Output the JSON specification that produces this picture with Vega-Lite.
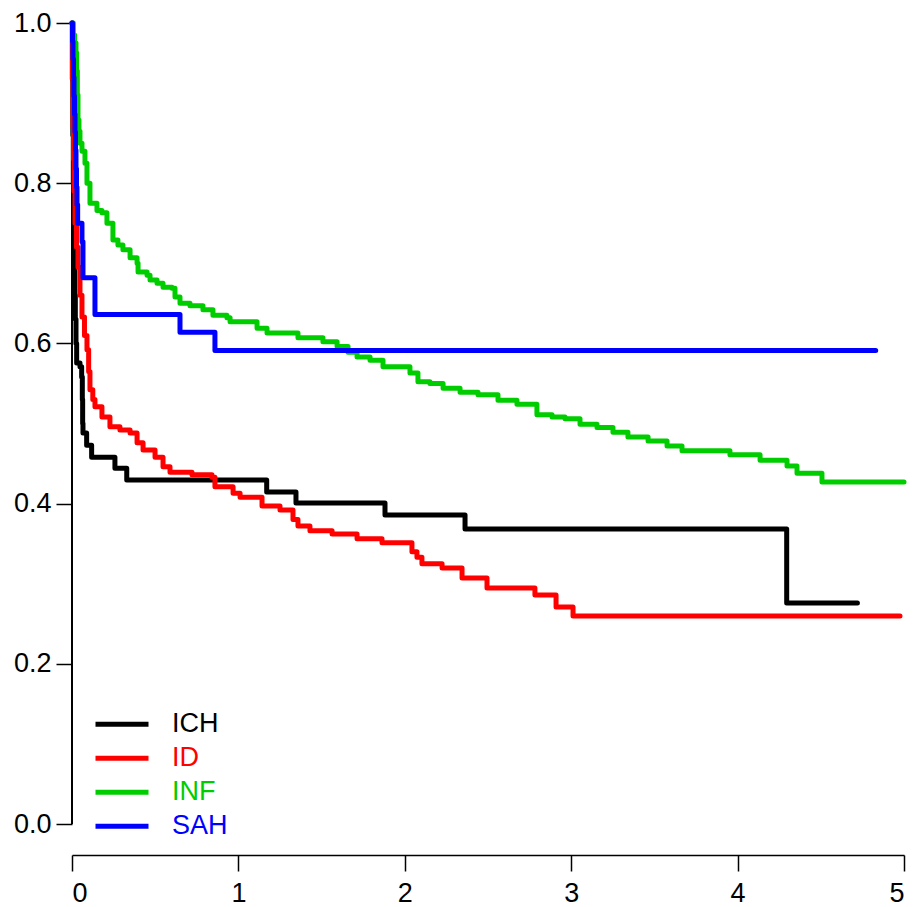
{
  "$schema": "https://vega.github.io/schema/vega-lite/v6.json",
  "autosize": {"type": "none"},
  "padding": {"left": 72, "top": 23, "right": 10, "bottom": 52},
  "width": 832,
  "height": 832,
  "config": {
    "view": {"stroke": null},
    "font": "Liberation Sans",
    "axis": {"grid": false, "labelFont": "Liberation Sans", "labelFontSize": 27, "labelColor": "#000000", "domainColor": "#000000", "tickColor": "#000000", "domainWidth": 1.5, "tickWidth": 1.5, "tickSize": 16, "title": null}
  },
  "data": {"values": [
    {"group": "ICH", "t": 0, "s": 1.0},
    {"group": "ICH", "t": 0.002, "s": 0.93},
    {"group": "ICH", "t": 0.005, "s": 0.86},
    {"group": "ICH", "t": 0.008, "s": 0.80},
    {"group": "ICH", "t": 0.011, "s": 0.74},
    {"group": "ICH", "t": 0.014, "s": 0.70},
    {"group": "ICH", "t": 0.017, "s": 0.66},
    {"group": "ICH", "t": 0.020, "s": 0.63},
    {"group": "ICH", "t": 0.024, "s": 0.60},
    {"group": "ICH", "t": 0.028, "s": 0.5755},
    {"group": "ICH", "t": 0.048, "s": 0.571},
    {"group": "ICH", "t": 0.058, "s": 0.558},
    {"group": "ICH", "t": 0.062, "s": 0.53},
    {"group": "ICH", "t": 0.064, "s": 0.50},
    {"group": "ICH", "t": 0.066, "s": 0.488},
    {"group": "ICH", "t": 0.088, "s": 0.473},
    {"group": "ICH", "t": 0.118, "s": 0.458},
    {"group": "ICH", "t": 0.258, "s": 0.444},
    {"group": "ICH", "t": 0.329, "s": 0.4295},
    {"group": "ICH", "t": 1.170, "s": 0.4145},
    {"group": "ICH", "t": 1.346, "s": 0.4007},
    {"group": "ICH", "t": 1.881, "s": 0.3858},
    {"group": "ICH", "t": 2.362, "s": 0.3683},
    {"group": "ICH", "t": 4.295, "s": 0.2759},
    {"group": "ICH", "t": 4.72, "s": 0.2759},

    {"group": "ID", "t": 0, "s": 1.0},
    {"group": "ID", "t": 0.003, "s": 0.93},
    {"group": "ID", "t": 0.006, "s": 0.87},
    {"group": "ID", "t": 0.009, "s": 0.83},
    {"group": "ID", "t": 0.012, "s": 0.79},
    {"group": "ID", "t": 0.018, "s": 0.750},
    {"group": "ID", "t": 0.027, "s": 0.72},
    {"group": "ID", "t": 0.036, "s": 0.695},
    {"group": "ID", "t": 0.048, "s": 0.66},
    {"group": "ID", "t": 0.060, "s": 0.633},
    {"group": "ID", "t": 0.075, "s": 0.61},
    {"group": "ID", "t": 0.090, "s": 0.592},
    {"group": "ID", "t": 0.100, "s": 0.565},
    {"group": "ID", "t": 0.108, "s": 0.542},
    {"group": "ID", "t": 0.125, "s": 0.53},
    {"group": "ID", "t": 0.138, "s": 0.521},
    {"group": "ID", "t": 0.180, "s": 0.508},
    {"group": "ID", "t": 0.228, "s": 0.496},
    {"group": "ID", "t": 0.288, "s": 0.492},
    {"group": "ID", "t": 0.349, "s": 0.488},
    {"group": "ID", "t": 0.391, "s": 0.476},
    {"group": "ID", "t": 0.427, "s": 0.467},
    {"group": "ID", "t": 0.499, "s": 0.458},
    {"group": "ID", "t": 0.547, "s": 0.446},
    {"group": "ID", "t": 0.589, "s": 0.439},
    {"group": "ID", "t": 0.721, "s": 0.436},
    {"group": "ID", "t": 0.841, "s": 0.433},
    {"group": "ID", "t": 0.859, "s": 0.421},
    {"group": "ID", "t": 0.968, "s": 0.413},
    {"group": "ID", "t": 1.010, "s": 0.408},
    {"group": "ID", "t": 1.142, "s": 0.397},
    {"group": "ID", "t": 1.250, "s": 0.392},
    {"group": "ID", "t": 1.328, "s": 0.380},
    {"group": "ID", "t": 1.358, "s": 0.372},
    {"group": "ID", "t": 1.430, "s": 0.366},
    {"group": "ID", "t": 1.563, "s": 0.362},
    {"group": "ID", "t": 1.713, "s": 0.356},
    {"group": "ID", "t": 1.863, "s": 0.351},
    {"group": "ID", "t": 2.043, "s": 0.340},
    {"group": "ID", "t": 2.073, "s": 0.333},
    {"group": "ID", "t": 2.103, "s": 0.325},
    {"group": "ID", "t": 2.224, "s": 0.3196},
    {"group": "ID", "t": 2.344, "s": 0.307},
    {"group": "ID", "t": 2.494, "s": 0.2946},
    {"group": "ID", "t": 2.782, "s": 0.286},
    {"group": "ID", "t": 2.909, "s": 0.271},
    {"group": "ID", "t": 3.011, "s": 0.2597},
    {"group": "ID", "t": 4.976, "s": 0.2597},

    {"group": "INF", "t": 0, "s": 1.0},
    {"group": "INF", "t": 0.008, "s": 0.985},
    {"group": "INF", "t": 0.016, "s": 0.975},
    {"group": "INF", "t": 0.024, "s": 0.963},
    {"group": "INF", "t": 0.028, "s": 0.94},
    {"group": "INF", "t": 0.032, "s": 0.91},
    {"group": "INF", "t": 0.036, "s": 0.879},
    {"group": "INF", "t": 0.042, "s": 0.865},
    {"group": "INF", "t": 0.048, "s": 0.850},
    {"group": "INF", "t": 0.060, "s": 0.840},
    {"group": "INF", "t": 0.078, "s": 0.825},
    {"group": "INF", "t": 0.090, "s": 0.800},
    {"group": "INF", "t": 0.108, "s": 0.775},
    {"group": "INF", "t": 0.150, "s": 0.766},
    {"group": "INF", "t": 0.180, "s": 0.763},
    {"group": "INF", "t": 0.210, "s": 0.750},
    {"group": "INF", "t": 0.246, "s": 0.729},
    {"group": "INF", "t": 0.276, "s": 0.723},
    {"group": "INF", "t": 0.306, "s": 0.717},
    {"group": "INF", "t": 0.349, "s": 0.707},
    {"group": "INF", "t": 0.391, "s": 0.700},
    {"group": "INF", "t": 0.397, "s": 0.689},
    {"group": "INF", "t": 0.451, "s": 0.685},
    {"group": "INF", "t": 0.469, "s": 0.679},
    {"group": "INF", "t": 0.511, "s": 0.675},
    {"group": "INF", "t": 0.547, "s": 0.670},
    {"group": "INF", "t": 0.601, "s": 0.669},
    {"group": "INF", "t": 0.619, "s": 0.658},
    {"group": "INF", "t": 0.649, "s": 0.650},
    {"group": "INF", "t": 0.709, "s": 0.647},
    {"group": "INF", "t": 0.787, "s": 0.642},
    {"group": "INF", "t": 0.847, "s": 0.635},
    {"group": "INF", "t": 0.931, "s": 0.632},
    {"group": "INF", "t": 0.950, "s": 0.627},
    {"group": "INF", "t": 1.112, "s": 0.619},
    {"group": "INF", "t": 1.172, "s": 0.613},
    {"group": "INF", "t": 1.358, "s": 0.607},
    {"group": "INF", "t": 1.508, "s": 0.602},
    {"group": "INF", "t": 1.593, "s": 0.596},
    {"group": "INF", "t": 1.659, "s": 0.589},
    {"group": "INF", "t": 1.713, "s": 0.583},
    {"group": "INF", "t": 1.791, "s": 0.579},
    {"group": "INF", "t": 1.869, "s": 0.571},
    {"group": "INF", "t": 2.031, "s": 0.563},
    {"group": "INF", "t": 2.079, "s": 0.552},
    {"group": "INF", "t": 2.151, "s": 0.550},
    {"group": "INF", "t": 2.230, "s": 0.544},
    {"group": "INF", "t": 2.332, "s": 0.539},
    {"group": "INF", "t": 2.440, "s": 0.536},
    {"group": "INF", "t": 2.560, "s": 0.529},
    {"group": "INF", "t": 2.674, "s": 0.524},
    {"group": "INF", "t": 2.794, "s": 0.511},
    {"group": "INF", "t": 2.885, "s": 0.508},
    {"group": "INF", "t": 2.963, "s": 0.506},
    {"group": "INF", "t": 3.053, "s": 0.499},
    {"group": "INF", "t": 3.155, "s": 0.495},
    {"group": "INF", "t": 3.251, "s": 0.489},
    {"group": "INF", "t": 3.341, "s": 0.483},
    {"group": "INF", "t": 3.462, "s": 0.478},
    {"group": "INF", "t": 3.576, "s": 0.472},
    {"group": "INF", "t": 3.666, "s": 0.466},
    {"group": "INF", "t": 3.954, "s": 0.461},
    {"group": "INF", "t": 4.135, "s": 0.454},
    {"group": "INF", "t": 4.297, "s": 0.447},
    {"group": "INF", "t": 4.357, "s": 0.438},
    {"group": "INF", "t": 4.507, "s": 0.427},
    {"group": "INF", "t": 5.0, "s": 0.427},

    {"group": "SAH", "t": 0, "s": 1.0},
    {"group": "SAH", "t": 0.003, "s": 0.977},
    {"group": "SAH", "t": 0.006, "s": 0.955},
    {"group": "SAH", "t": 0.009, "s": 0.932},
    {"group": "SAH", "t": 0.012, "s": 0.909},
    {"group": "SAH", "t": 0.015, "s": 0.886},
    {"group": "SAH", "t": 0.018, "s": 0.864},
    {"group": "SAH", "t": 0.021, "s": 0.841},
    {"group": "SAH", "t": 0.024, "s": 0.818},
    {"group": "SAH", "t": 0.027, "s": 0.795},
    {"group": "SAH", "t": 0.030, "s": 0.773},
    {"group": "SAH", "t": 0.034, "s": 0.750},
    {"group": "SAH", "t": 0.060, "s": 0.727},
    {"group": "SAH", "t": 0.066, "s": 0.682},
    {"group": "SAH", "t": 0.138, "s": 0.636},
    {"group": "SAH", "t": 0.649, "s": 0.614},
    {"group": "SAH", "t": 0.859, "s": 0.591},
    {"group": "SAH", "t": 4.83, "s": 0.591}
  ]},
  "layer": [
    {
      "mark": {"type": "rule", "color": "#000000", "strokeWidth": 1.5},
      "encoding": {
        "x": {"datum": 0, "type": "quantitative"},
        "y": {"datum": 0, "type": "quantitative"},
        "y2": {"datum": 1}
      }
    },
    {
      "mark": {"type": "line", "interpolate": "step-after", "strokeWidth": 5, "strokeCap": "round", "strokeJoin": "round"},
      "encoding": {
        "x": {"field": "t", "type": "quantitative", "scale": {"domain": [0, 5], "nice": false, "zero": false},
              "axis": {"values": [0, 1, 2, 3, 4, 5], "format": "d", "labelPadding": 9}},
        "y": {"field": "s", "type": "quantitative", "scale": {"domain": [-0.0387, 1], "nice": false, "zero": false},
              "axis": {"values": [0, 0.2, 0.4, 0.6, 0.8, 1.0], "format": ".1f", "domain": false, "labelPadding": 5}},
        "color": {"field": "group", "type": "nominal",
                  "scale": {"domain": ["ICH", "ID", "INF", "SAH"], "range": ["#000000", "#FF0000", "#00CD00", "#0000FF"]},
                  "legend": {"orient": "none", "legendX": 21, "legendY": 684.5, "title": null,
                             "symbolType": "stroke", "symbolSize": 2809, "symbolStrokeWidth": 5,
                             "labelFontSize": 27, "labelFont": "Liberation Sans", "labelOffset": 21,
                             "clipHeight": 33.3, "rowPadding": 0, "padding": 0,
                             "encode": {"labels": {"update": {"fill": {"scale": "color", "field": "value"}}}}}},
        "order": {"field": "t", "type": "quantitative"}
      }
    }
  ]
}
